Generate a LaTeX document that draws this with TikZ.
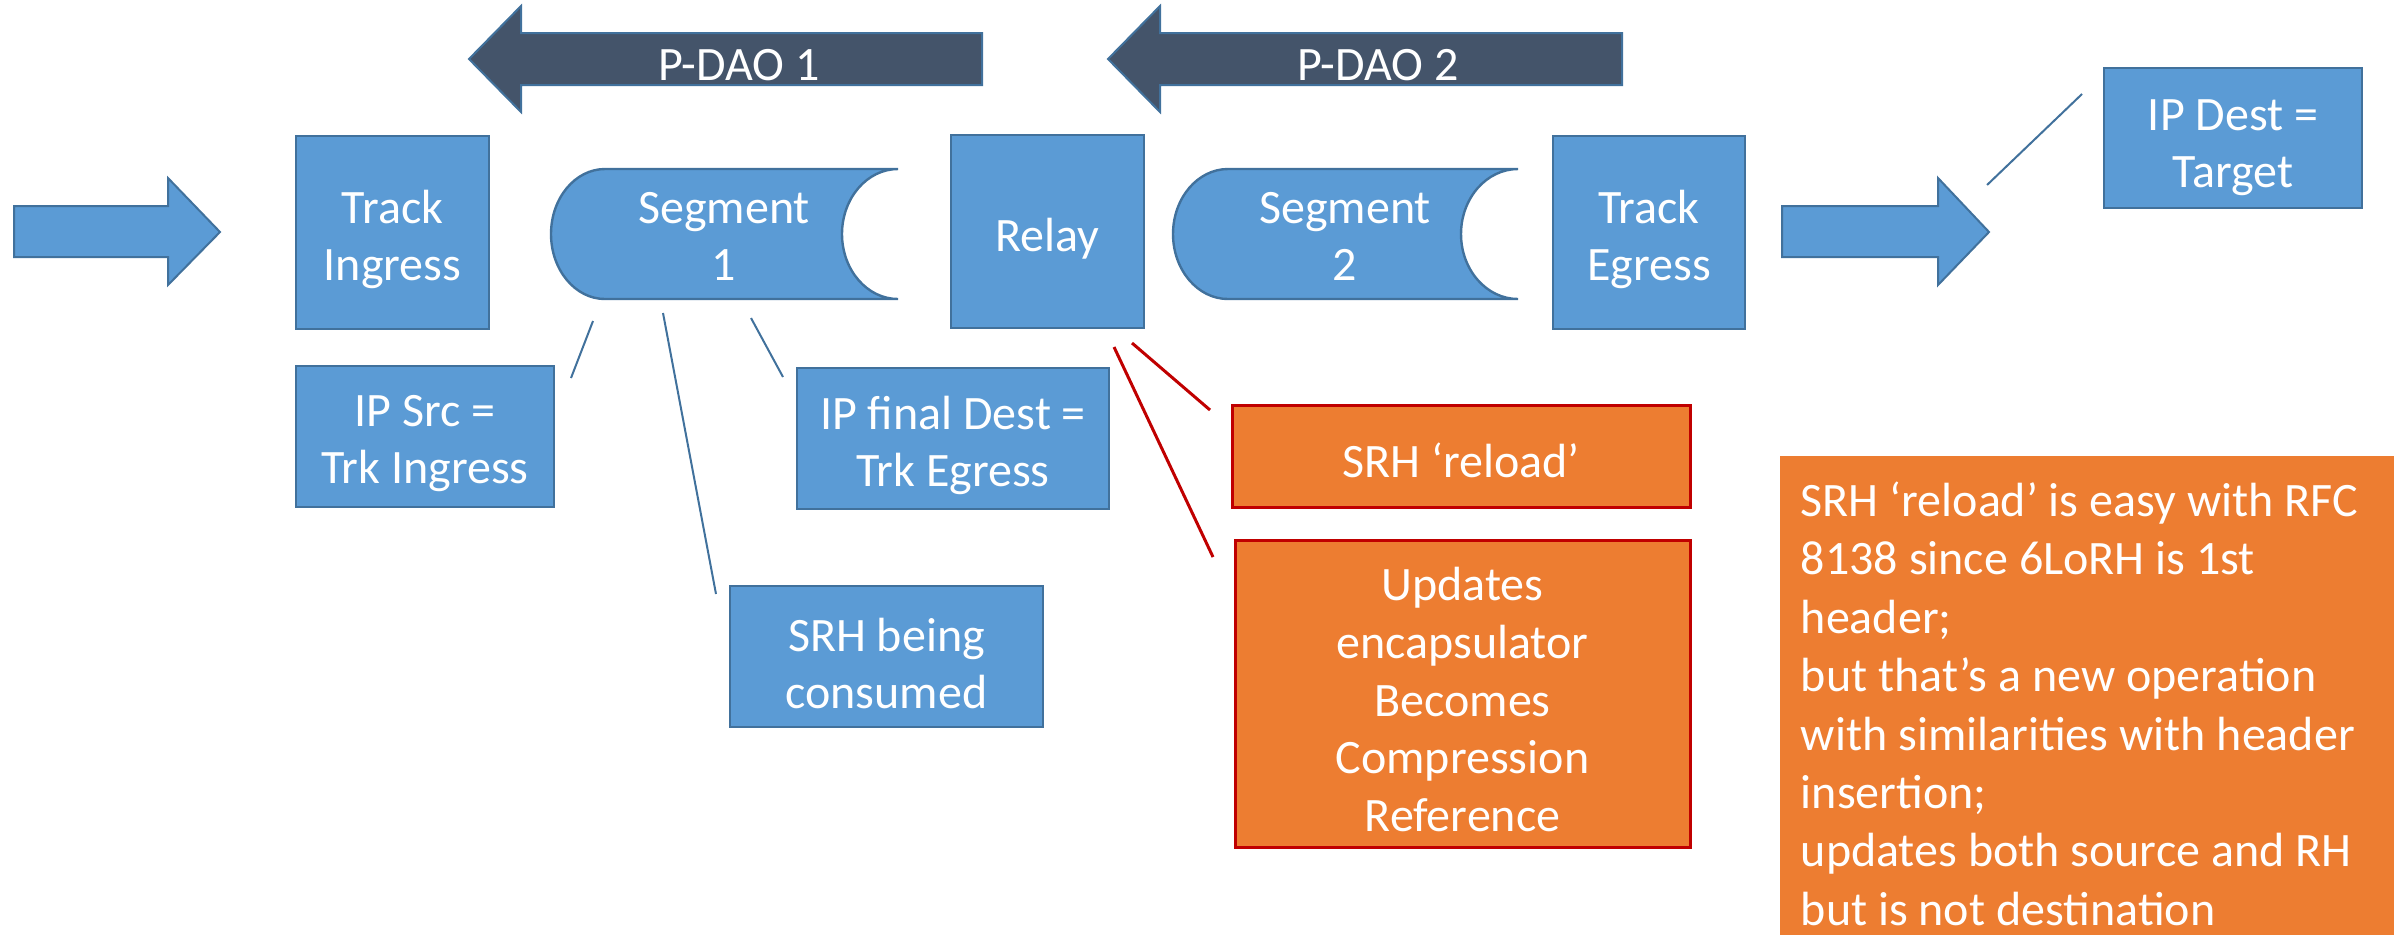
\documentclass[tikz,border=0pt]{standalone}
\usepackage{fontspec}
\setmainfont{Carlito}
\definecolor{boxblue}{HTML}{5B9BD5}
\definecolor{boxedge}{HTML}{41719C}
\definecolor{darkarrow}{HTML}{44546A}
\definecolor{orangefill}{HTML}{ED7D31}
\definecolor{darkred}{HTML}{C00000}
\begin{document}
\begin{tikzpicture}[x=0.25pt,y=0.25pt,
  sz/.style 2 args={minimum width=#1*0.25pt, minimum height=#2*0.25pt},
  bluebox/.style={draw=boxedge, fill=boxblue, line width=0.6pt, inner sep=0pt},
  redbox/.style={draw=darkred, fill=orangefill, line width=0.75pt, inner sep=0pt},
  blockarrow/.style={draw=boxedge, fill=boxblue, line width=0.5pt},
  daoarrow/.style={draw=boxedge, fill=darkarrow, line width=0.5pt},
  segshape/.style={draw=boxedge, fill=boxblue, line width=0.6pt},
  lbl/.style={text=white, inner sep=0pt, align=center, font=\fontsize{12}{14.4}\selectfont},
  callout/.style={draw=boxedge, line width=0.5pt},
  redcallout/.style={draw=darkred, line width=0.75pt},
]
\useasboundingbox (0,0) rectangle (2394,-935);

% block arrows
\path[blockarrow] (14,-206) -- (168,-206) -- (168,-178) -- (220,-232) -- (168,-285) -- (168,-257) -- (14,-257) -- cycle;
\path[blockarrow] (1782,-206) -- (1938,-206) -- (1938,-178) -- (1989,-232) -- (1938,-285) -- (1938,-257) -- (1782,-257) -- cycle;
\path[daoarrow] (982,-33) -- (521,-33) -- (521,-6) -- (469,-59) -- (521,-112) -- (521,-85) -- (982,-85) -- cycle;
\path[daoarrow] (1622,-33) -- (1160,-33) -- (1160,-6) -- (1108,-59) -- (1160,-112) -- (1160,-85) -- (1622,-85) -- cycle;
\node[lbl] (dao1) at (739,-65) {P-DAO 1};
\node[lbl] (dao2) at (1378,-65) {P-DAO 2};

% segments
\path[segshape] (605,-169) -- (898,-169) arc[start angle=90, end angle=270, x radius=56, y radius=65]
  -- (605,-299) arc[start angle=270, end angle=90, x radius=54, y radius=65] -- cycle;
\node[lbl] (seg1) at (724,-236.5) {Segment\\1};
\path[segshape] (1228,-169) -- (1518,-169) arc[start angle=90, end angle=270, x radius=57, y radius=65]
  -- (1228,-299) arc[start angle=270, end angle=90, x radius=55, y radius=65] -- cycle;
\node[lbl] (seg2) at (1345,-236.5) {Segment\\2};

% boxes
\node[bluebox, sz={193}{193}] (ingress) at (392.5,-232.5) {};
\node[bluebox, sz={193}{193}] (relay) at (1047.5,-231.5) {};
\node[bluebox, sz={192}{193}] (egress) at (1649,-232.5) {};
\node[bluebox, sz={258}{140}] (target) at (2233,-138) {};
\node[bluebox, sz={258}{141}] (ipsrc) at (425,-436.5) {};
\node[bluebox, sz={312}{141}] (ipfinal) at (953,-438.5) {};
\node[bluebox, sz={313}{141}] (consumed) at (886.5,-656.5) {};
\node[redbox, sz={458}{102}] (reload) at (1461,-456) {};
\node[redbox, sz={455}{307}] (updates) at (1462.5,-693.5) {};

\node[lbl] (ingress-t) at ([yshift=-1.75pt]ingress.center) {Track\\Ingress};
\node[lbl] (relay-t) at ([yshift=-1.75pt]relay.center) {Relay};
\node[lbl] (egress-t) at ([yshift=-1.75pt]egress.center) {Track\\Egress};
\node[lbl] (target-t) at ([yshift=-2.4pt]target.center) {IP Dest =\\Target};
\node[lbl] (ipsrc-t) at ([yshift=-1.75pt]ipsrc.center) {IP Src =\\Trk Ingress};
\node[lbl] (ipfinal-t) at ([yshift=-1.75pt]ipfinal.center) {IP final Dest =\\Trk Egress};
\node[lbl] (consumed-t) at ([yshift=-1.75pt]consumed.center) {SRH being\\consumed};
\node[lbl] (reload-t) at ([yshift=-1.2pt]reload.center) {SRH ‘reload’};
\node[lbl] (updates-t) at ([yshift=-1.5pt]updates.center) {Updates\\encapsulator\\Becomes\\Compression\\Reference};

\fill[orangefill] (1780,-456) rectangle (2394,-935);
\node[text=white, inner sep=0pt, align=left, anchor=north west, font=\fontsize{12}{14.6}\selectfont] (note) at (1800,-481)
 {SRH ‘reload’ is easy with RFC\\8138 since 6LoRH is 1st\\header;\\but that’s a new operation\\with similarities with header\\insertion;\\updates both source and RH\\but is not destination};

% callout lines
\coordinate (c1a) at (593,-321); \coordinate (c1b) at (571,-378);
\coordinate (c2a) at (663,-313); \coordinate (c2b) at (716,-594);
\coordinate (c3a) at (751,-318); \coordinate (c3b) at (783,-377);
\coordinate (c4a) at (2082,-94); \coordinate (c4b) at (1987,-185);
\draw[callout] (c1a) -- (c1b);
\draw[callout] (c2a) -- (c2b);
\draw[callout] (c3a) -- (c3b);
\draw[callout] (c4a) -- (c4b);
\coordinate (r1a) at (1132,-343); \coordinate (r1b) at (1210,-410);
\coordinate (r2a) at (1114,-347); \coordinate (r2b) at (1213,-557);
\draw[redcallout] (r1a) -- (r1b);
\draw[redcallout] (r2a) -- (r2b);
\end{tikzpicture}
\end{document}
